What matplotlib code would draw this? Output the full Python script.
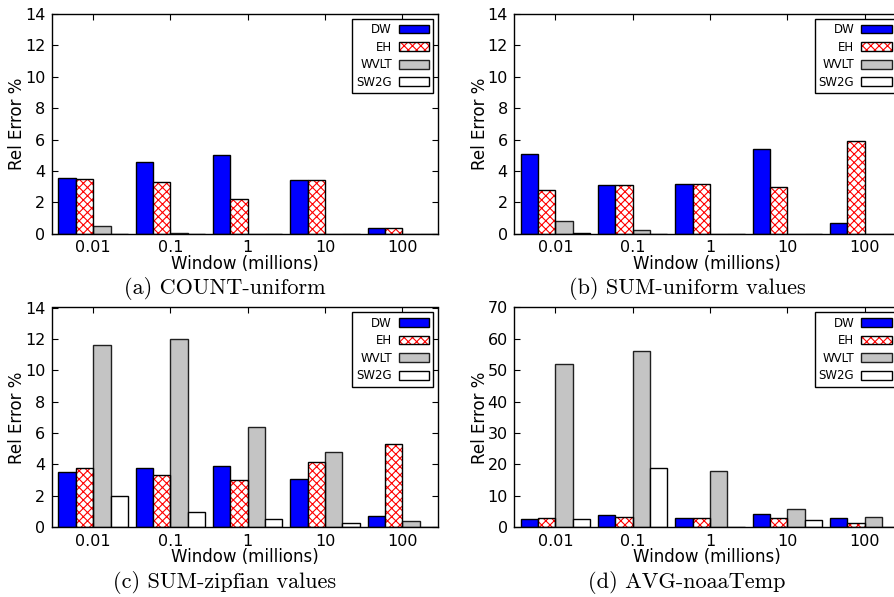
import matplotlib
matplotlib.use('Agg')
import matplotlib.pyplot as plt
import numpy as np
from matplotlib.patches import Patch
from matplotlib.legend_handler import HandlerTuple

windows = ["0.01", "0.1", "1", "10", "100"]
methods = ["DW", "EH", "WVLT", "SW2G"]

# (a) COUNT-uniform
count_dw = [3.55, 4.55, 5.0, 3.45, 0.36]
count_eh = [3.5, 3.3, 2.24, 3.45, 0.36]
count_wvlt = [0.5, 0.06, 0.0, 0.0, 0.0]
count_sw2g = [0.0, 0.0, 0.0, 0.0, 0.0]

# (b) SUM-uniform values
sumu_dw = [5.1, 3.12, 3.2, 5.4, 0.7]
sumu_eh = [2.8, 3.12, 3.2, 2.98, 5.9]
sumu_wvlt = [0.82, 0.22, 0.0, 0.0, 0.0]
sumu_sw2g = [0.06, 0.0, 0.0, 0.0, 0.0]

# (c) SUM-zipfian values
sumz_dw = [3.52, 3.8, 3.9, 3.1, 0.7]
sumz_eh = [3.8, 3.3, 3.0, 4.18, 5.28]
sumz_wvlt = [11.6, 12.0, 6.4, 4.8, 0.4]
sumz_sw2g = [2.0, 1.0, 0.5, 0.3, 0.0]

# (d) AVG-noaaTemp
avg_dw = [2.55, 3.9, 2.97, 4.24, 2.97]
avg_eh = [2.97, 3.4, 2.97, 3.1, 1.5]
avg_wvlt = [52.0, 56.0, 18.0, 5.9, 3.3]
avg_sw2g = [2.75, 19.0, 0.25, 2.2, 0.25]

captions = ["(a) COUNT-uniform", "(b) SUM-uniform values",
            "(c) SUM-zipfian values", "(d) AVG-noaaTemp"]
panels = [
    (count_dw, count_eh, count_wvlt, count_sw2g),
    (sumu_dw, sumu_eh, sumu_wvlt, sumu_sw2g),
    (sumz_dw, sumz_eh, sumz_wvlt, sumz_sw2g),
    (avg_dw, avg_eh, avg_wvlt, avg_sw2g),
]
ymaxes = [14, 14, 14, 70]
ysteps = [2, 2, 2, 10]

W, H = 895, 597
fig = plt.figure(figsize=(W / 100, H / 100), dpi=100)
plt.rcParams['hatch.linewidth'] = 0.8

ax_w, ax_h = 386.6, 219.8
lefts = [51.7, 514.0, 51.7, 514.0]
tops = [14.0, 14.0, 307.5, 307.5]
cap_x = [225, 687, 225, 687]
cap_y = [288.5, 288.5, 583, 583]

bw = 0.225
offsets = [(k - 1.5) * bw for k in range(4)]
x = np.arange(len(windows))

blue = '#0000ff'
gray = '#c4c4c4'
hatch = 'xxxx'

for i in range(4):
    l, t = lefts[i], tops[i]
    ax = fig.add_axes([l / W, 1 - (t + ax_h) / H, ax_w / W, ax_h / H])
    dw, eh, wv, sw = panels[i]
    ax.bar(x + offsets[0], dw, bw, color=blue, edgecolor='black', linewidth=1.0, zorder=2)
    ax.bar(x + offsets[1], eh, bw, color='white', edgecolor='red', hatch=hatch, linewidth=0, zorder=2)
    ax.bar(x + offsets[1], eh, bw, fill=False, edgecolor='black', linewidth=1.0, zorder=2.1)
    ax.bar(x + offsets[2], wv, bw, color=gray, edgecolor='#202020', linewidth=1.0, zorder=2)
    ax.bar(x + offsets[3], sw, bw, color='white', edgecolor='black', linewidth=1.0, zorder=2)

    ax.set_xlim(-0.536, 4.466)
    ax.set_ylim(0, ymaxes[i])
    ax.set_yticks(np.arange(0, ymaxes[i] + 1, ysteps[i]))
    ax.set_xticks(x)
    ax.set_xticklabels(windows)
    ax.tick_params(direction='in', top=True, right=True, length=4, width=0.8,
                   labelsize=11.5, pad=4.5, colors='black')
    for s in ax.spines.values():
        s.set_linewidth(1.0)
    ax.set_ylabel("Rel Error %", fontsize=12, va='center')
    ax.yaxis.set_label_coords(-0.089, 0.5)
    ax.set_xlabel("Window (millions)", fontsize=12, va='center')
    ax.xaxis.set_label_coords(0.5, -0.136)

    h_dw = Patch(facecolor=blue, edgecolor='black', linewidth=1.0)
    h_eh = (Patch(facecolor='white', edgecolor='red', hatch=hatch, linewidth=0),
            Patch(fill=False, edgecolor='black', linewidth=1.0))
    h_wv = Patch(facecolor=gray, edgecolor='#202020', linewidth=1.0)
    h_sw = Patch(facecolor='white', edgecolor='black', linewidth=1.0)
    leg = ax.legend([h_dw, h_eh, h_wv, h_sw], methods, loc='upper right',
                    markerfirst=False, fontsize=8.5, handlelength=2.55,
                    handleheight=0.75, handletextpad=0.6, labelspacing=0.39,
                    borderpad=0.35, borderaxespad=0.42, fancybox=False,
                    framealpha=1, edgecolor='black',
                    handler_map={tuple: HandlerTuple(ndivide=1)})
    leg.get_frame().set_linewidth(1.0)

    fig.text(cap_x[i] / W, 1 - cap_y[i] / H, captions[i], family='cmr10',
             fontsize=16, ha='center', va='center')

fig.savefig('out.png', dpi=100)
